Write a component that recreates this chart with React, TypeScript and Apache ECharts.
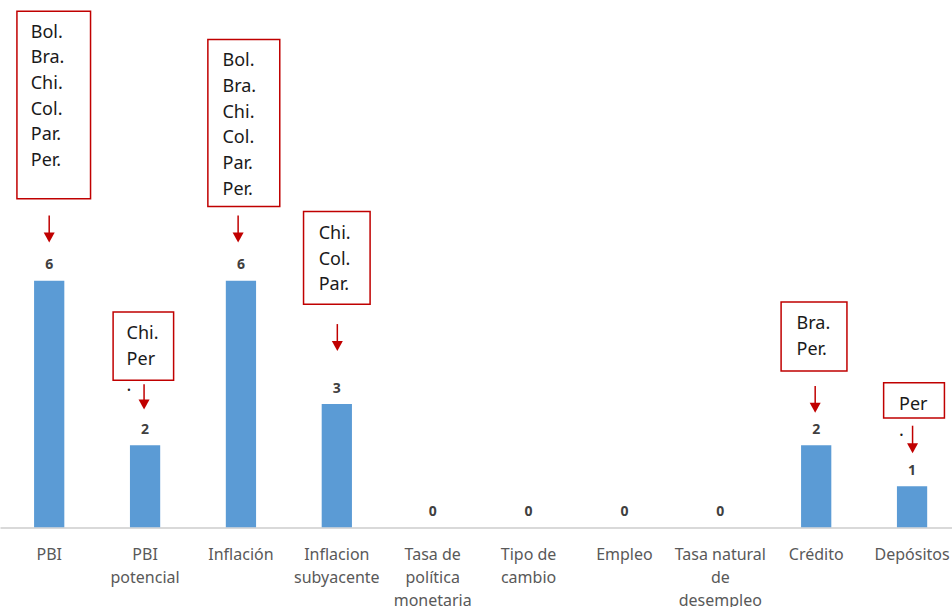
import React, { useEffect, useRef } from "react";
import * as echarts from "echarts";

const categories = [
  "PBI",
  "PBI\npotencial",
  "Inflación",
  "Inflacion\nsubyacente",
  "Tasa de\npolítica\nmonetaria",
  "Tipo de\ncambio",
  "Empleo",
  "Tasa natural\nde\ndesempleo",
  "Crédito",
  "Depósitos",
];
const values = [6, 2, 6, 3, 0, 0, 0, 0, 2, 1];

// Annotation texts (countries), attached to category index
const annotationCategory = [0, 1, 2, 3, 8, 9];
const annotationText = [
  "Bol.\nBra.\nChi.\nCol.\nPar.\nPer.",
  "Chi.\nPer\n.",
  "Bol.\nBra.\nChi.\nCol.\nPar.\nPer.",
  "Chi.\nCol.\nPar.",
  "Bra.\nPer.",
  "Per\n.",
];

// Layout of annotation boxes/arrows relative to bar top centre (pixels)
const annotationLayout = [
  { dx: -32, dy: -267.4, w: 73, h: 186, tx: 13.7, ty: 6.5, ax: 0, a0: -64.7, a1: -38 },
  { dx: -31.7, dy: -132, w: 60, h: 67.7, tx: 13.4, ty: 7.5, ax: -1, a0: -60.3, a1: -35.3 },
  { dx: -32.8, dy: -239.4, w: 71.3, h: 165.7, tx: 14.5, ty: 7, ax: -2.8, a0: -64.7, a1: -38 },
  { dx: -33, dy: -191, w: 66, h: 92, tx: 15, ty: 7.5, ax: 0.5, a0: -79.3, a1: -52.6 },
  { dx: -34.8, dy: -142, w: 65.3, h: 68.4, tx: 15.3, ty: 7.5, ax: -1, a0: -58.6, a1: -32 },
  { dx: -28.2, dy: -102.7, w: 60.3, h: 35, tx: 15.3, ty: 7.5, ax: 0.5, a0: -60, a1: -32.7 },
];

const RED = "#c00000";
const S = 960 / 952;
const W = 960;
const H = 612;

export default function App() {
  const ref = useRef<HTMLDivElement>(null);
  useEffect(() => {
    if (!ref.current) return;
    document.body.style.margin = "0";
    const chart = echarts.init(ref.current, undefined, { renderer: "svg" });
    chart.setOption({
      animation: false,
      backgroundColor: "#ffffff",
      grid: { left: 1.25 * S, top: 34 * S, width: 959 * S, bottom: H - 527.3 * S, containLabel: false },
      xAxis: {
        type: "category",
        data: categories,
        axisLine: { show: true, lineStyle: { color: "#d9d9d9", width: 2 } },
        axisTick: { show: false },
        axisLabel: {
          interval: 0,
          margin: 15 * S,
          color: "#595959",
          fontFamily: "Noto Sans",
          fontSize: 16,
          lineHeight: 23 * S,
          verticalAlign: "top",
        },
      },
      yAxis: {
        type: "value",
        min: 0,
        max: 12,
        show: false,
        splitLine: { show: false },
      },
      series: [
        {
          type: "bar",
          data: values,
          barWidth: 30 * S,
          itemStyle: { color: "#5b9bd5" },
          label: {
            show: true,
            position: "top",
            distance: 10,
            color: "#404040",
            fontWeight: "bold",
            fontFamily: "Noto Sans",
            fontSize: 14,
          },
        },
      ],
    });

    const graphics: any[] = [];
    annotationCategory.forEach((ci, k) => {
      const p = chart.convertToPixel({ seriesIndex: 0 }, [ci, values[ci]]) as number[];
      const L = annotationLayout[k];
      const cx = p[0];
      const cy = p[1];
      const bx = cx + L.dx * S;
      const by = cy + L.dy * S;
      graphics.push({
        type: "rect",
        shape: { x: bx, y: by, width: L.w * S, height: L.h * S },
        style: { fill: "#ffffff", stroke: RED, lineWidth: 1.5 },
        z: 10,
      });
      graphics.push({
        type: "text",
        x: bx + L.tx * S,
        y: by + L.ty * S,
        style: {
          text: annotationText[k],
          fill: "#1a1a1a",
          font: "18px 'Noto Sans'",
          lineHeight: 25.5 * S,
          verticalAlign: "top",
          align: "left",
        },
        z: 11,
      });
      const axp = cx + L.ax * S;
      const tip = cy + L.a1 * S;
      graphics.push({
        type: "line",
        shape: { x1: axp, y1: cy + L.a0 * S, x2: axp, y2: tip - 8 },
        style: { stroke: RED, lineWidth: 1.5 },
        z: 10,
      });
      graphics.push({
        type: "polygon",
        shape: {
          points: [
            [axp - 5.5, tip - 10],
            [axp + 5.5, tip - 10],
            [axp, tip],
          ],
        },
        style: { fill: RED },
        z: 10,
      });
    });
    chart.setOption({ graphic: graphics });

    return () => chart.dispose();
  }, []);
  return (
    <div
      ref={ref}
      style={{ position: "absolute", left: 0, top: 0, width: W, height: H, overflow: "hidden" }}
    />
  );
}
